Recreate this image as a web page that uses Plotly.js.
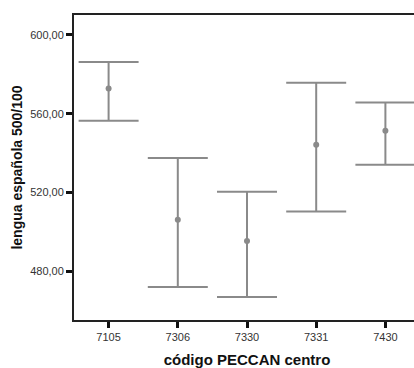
<!DOCTYPE html>
<html>
<head>
<meta charset="utf-8">
<script src="https://cdn.plot.ly/plotly-3.0.1.min.js"></script>
<style>
html,body{margin:0;padding:0;overflow:hidden;background:#fff;}
#chart{width:420px;height:368px;}
</style>
</head>
<body>
<div id="chart"></div>
<script>
const categories = ["7105", "7306", "7330", "7331", "7430"];
const means = [572.8, 506.2, 495.4, 544.2, 551.3];
const upper = [586.2, 537.5, 520.4, 575.7, 565.7];
const lower = [556.4, 472.1, 467.0, 510.4, 534.1];
const yTicks = [480, 520, 560, 600];

const errPlus = upper.map((u, i) => u - means[i]);
const errMinus = lower.map((l, i) => means[i] - l);

const grey = '#8a8a8a';
const fam = '"Liberation Sans", Arial, sans-serif';

const trace = {
  type: 'scatter',
  mode: 'markers',
  x: categories,
  y: means,
  marker: {color: grey, size: 6},
  error_y: {
    type: 'data',
    symmetric: false,
    array: errPlus,
    arrayminus: errMinus,
    color: grey,
    thickness: 2,
    width: 30
  },
  hoverinfo: 'none'
};

const layout = {
  width: 420,
  height: 368,
  margin: {l: 74, r: 0, t: 15, b: 47.5},
  paper_bgcolor: '#fff',
  plot_bgcolor: '#fff',
  showlegend: false,
  separators: ',.',
  font: {family: fam, color: '#333'},
  xaxis: {
    type: 'category',
    range: [-0.5, 4.5],
    showgrid: false,
    zeroline: false,
    showline: true,
    linecolor: '#222',
    linewidth: 2,
    mirror: true,
    ticks: 'outside',
    ticklen: 6,
    tickwidth: 3,
    tickcolor: '#111',
    tickfont: {size: 11, color: '#333', family: fam},
    title: {text: 'código PECCAN centro', font: {size: 15, color: '#111', family: fam, weight: 'bold'}, standoff: 14},
    automargin: false
  },
  yaxis: {
    range: [455.3, 610.1],
    tickvals: yTicks,
    tickformat: '.2f',
    showgrid: false,
    zeroline: false,
    showline: true,
    linecolor: '#222',
    linewidth: 2,
    mirror: true,
    ticks: 'outside',
    ticklen: 6,
    tickwidth: 3,
    tickcolor: '#111',
    tickfont: {size: 11, color: '#333', family: fam},
    title: {text: 'lengua española 500/100', font: {size: 14, color: '#111', family: fam, weight: 'bold'}, standoff: 4},
    automargin: false
  }
};

Plotly.newPlot('chart', [trace], layout, {staticPlot: true, displayModeBar: false});
</script>
</body>
</html>
